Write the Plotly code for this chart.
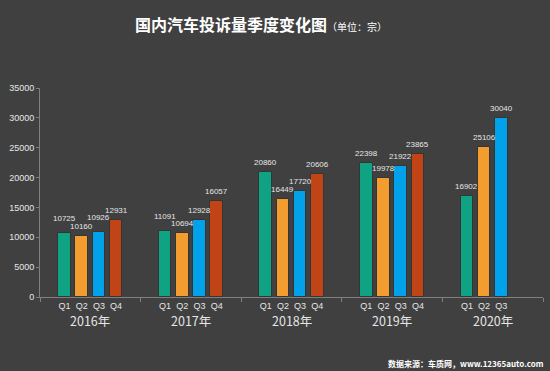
import plotly.graph_objects as go

years = ["2016年", "2017年", "2018年", "2019年", "2020年"]
quarters = ["Q1", "Q2", "Q3", "Q4"]
colors = ["#10a383", "#f39c2f", "#02a2ea", "#c04415"]
values = {
    "Q1": [10725, 11091, 20860, 22398, 16902],
    "Q2": [10160, 10694, 16449, 19978, 25106],
    "Q3": [10926, 12928, 17720, 21922, 30040],
    "Q4": [12931, 16057, 20606, 23865, None],
}

GROUP = 5.85  # spacing between year groups, in slot units
BW = 0.73

W, H = 550, 371
ml, mr, mt, mb = 40, 7, 88, 74
pw, ph = W - ml - mr, H - mt - mb

fig = go.Figure()
tickvals, ticktext = [], []
annotations = []
for qi, q in enumerate(quarters):
    xs, ys = [], []
    for gi, v in enumerate(values[q]):
        if v is None:
            continue
        x = gi * GROUP + qi
        xs.append(x)
        ys.append(v)
        tickvals.append(x)
        ticktext.append(q)
        # lift a label a little when a neighbouring label would collide
        shift = 3
        neigh = []
        if qi < 3:
            neigh.append(values[quarters[qi + 1]][gi])
        if qi > 0:
            neigh.append(values[quarters[qi - 1]][gi])
        if any(n is not None and 0 < v - n < 1000 for n in neigh):
            shift = 8
        annotations.append(dict(x=x, y=v, xref="x", yref="y", text=str(v),
                                showarrow=False, yanchor="bottom", yshift=shift,
                                font=dict(size=8, color="#e6e6e6",
                                          family="Liberation Sans, Arial")))
    fig.add_trace(go.Bar(x=xs, y=ys, width=BW, name=q,
                         marker=dict(color=colors[qi],
                                     line=dict(color="#353535", width=1)),
                         showlegend=False, hoverinfo="x+y"))

for gi, yr in enumerate(years):
    annotations.append(dict(x=gi * GROUP + 1.5, y=0, xref="x", yref="paper",
                            text=yr, showarrow=False, yanchor="middle",
                            yshift=-23,
                            font=dict(size=12.5, color="#e6e6e6",
                                      family="Noto Sans CJK SC")))

annotations.append(dict(x=(546 - ml) / pw, y=(H - 363 - mb) / ph,
                        xref="paper", yref="paper",
                        text="<b>数据来源：车质网，www.12365auto.com</b>",
                        showarrow=False, xanchor="right", yanchor="middle",
                        font=dict(size=8, color="#ffffff",
                                  family="Noto Sans CJK SC")))

boundaries = [gi * GROUP - 1.425 for gi in range(6)]

fig.update_layout(
    width=W, height=H,
    margin=dict(l=ml, r=mr, t=mt, b=mb),
    paper_bgcolor="#404040", plot_bgcolor="#404040",
    title=dict(
        text="<b>国内汽车投诉量季度变化图</b><span style='font-size:10px'>（单位：宗）</span>",
        x=261 / W, xanchor="center", y=1 - 25 / H, yanchor="middle",
        font=dict(size=16, color="#ffffff", family="Noto Sans CJK SC")),
    bargap=0,
    xaxis=dict(range=[boundaries[0], boundaries[-1]], tickvals=tickvals,
               ticktext=ticktext, ticks="", showgrid=False, zeroline=False,
               showline=True, linecolor="#808080", linewidth=1,
               tickfont=dict(size=9, color="#e6e6e6",
                             family="Liberation Sans, Arial"),
               minor=dict(tickvals=boundaries, ticks="outside", ticklen=4,
                          tickcolor="#808080", tickwidth=1, showgrid=False),
               fixedrange=True),
    yaxis=dict(range=[0, 35000], dtick=5000, tickformat="d",
               showgrid=False, zeroline=False,
               showline=True, linecolor="#808080", linewidth=1,
               ticks="outside", ticklen=3, tickcolor="#808080",
               tickfont=dict(size=9, color="#e6e6e6",
                             family="Liberation Sans, Arial"),
               fixedrange=True),
    annotations=annotations,
)

fig.write_html("out.html", config={"displayModeBar": False},
               post_script="document.body.style.margin='0';document.body.style.background='#404040';")
